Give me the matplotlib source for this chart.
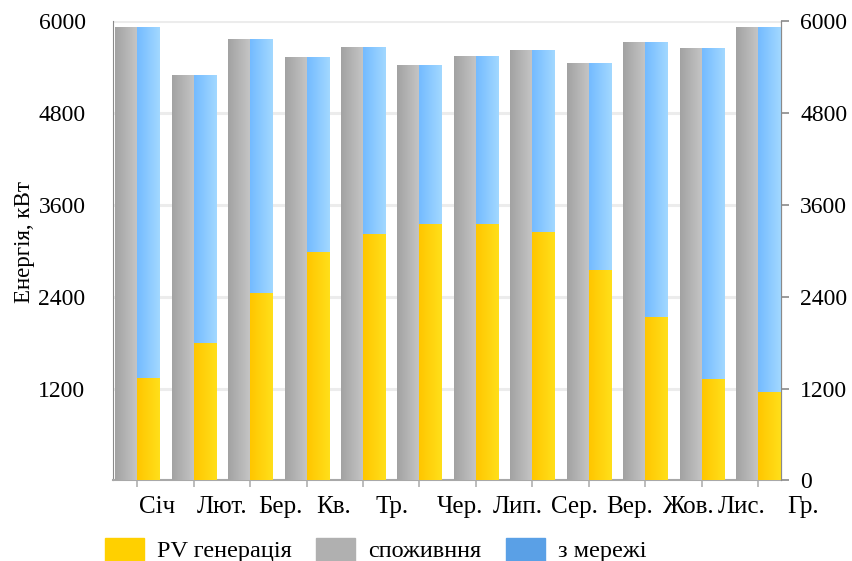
import numpy as np
import matplotlib
matplotlib.use("Agg")
import matplotlib.pyplot as plt
from matplotlib.colors import LinearSegmentedColormap
from matplotlib.patches import Patch
from matplotlib.transforms import offset_copy

plt.rcParams['font.family'] = ['Liberation Serif', 'DejaVu Serif']

months = ['Січ', 'Лют.', 'Бер.', 'Кв.', 'Тр.', 'Чер.', 'Лип.', 'Сер.', 'Вер.', 'Жов.', 'Лис.', 'Гр.']
pv = [1340, 1790, 2450, 2990, 3225, 3355, 3355, 3245, 2745, 2140, 1325, 1150]
consumption = [5925, 5290, 5770, 5530, 5660, 5420, 5540, 5620, 5455, 5730, 5650, 5925]
from_grid = [4585, 3500, 3320, 2540, 2435, 2065, 2185, 2375, 2710, 3590, 4325, 4775]
yticks = [0, 1200, 2400, 3600, 4800, 6000]
left_ticklabels = ['', '1200', '2400', '3600', '4800', '6000']

# label shift (px) - labels in the scan sit to the right of the ticks
label_dx = [20, 28, 30, 27, 29, 40, 42, 42, 41, 43, 40, 45]


def shade(ax, bars, c1, c2):
    cmap = LinearSegmentedColormap.from_list('g', [c1, c2])
    grad = np.linspace(0, 1, 64).reshape(1, -1)
    for b in bars:
        x0, y0 = b.get_x(), b.get_y()
        im = ax.imshow(grad, cmap=cmap, aspect='auto', interpolation='bilinear',
                       extent=[x0, x0 + b.get_width(), y0, y0 + b.get_height()],
                       zorder=b.get_zorder() + 0.1)
        im.set_clip_path(b)


fig = plt.figure(figsize=(8.53, 5.61), dpi=100)
ax = fig.add_axes([0.1328, 0.1435, 0.7824, 0.8191])

x = np.arange(len(months))
w = 0.39
b_cons = ax.bar(x - w / 2, consumption, w, color='#b4b4b4', zorder=3)
b_pv = ax.bar(x + w / 2, pv, w, color='#ffd000', zorder=3)
b_grid = ax.bar(x + w / 2, from_grid, w, bottom=pv, color='#8ccbff', zorder=3)
shade(ax, b_cons, '#a2a2a2', '#c6c6c6')
shade(ax, b_pv, '#ffc600', '#ffdf1a')
shade(ax, b_grid, '#74bbff', '#a2d8ff')

ax.set_xlim(-0.425, 11.40)
ax.set_ylim(0, 6000)

ax.set_yticks(yticks)
ax.set_yticklabels(left_ticklabels, fontsize=17)
ax.tick_params(axis='y', length=0, pad=20)
ax.yaxis.grid(True, color='#ececec', linewidth=2.2, zorder=0)
ax.set_axisbelow(True)

ax.set_xticks(x)
ax.set_xticklabels([''] * len(months))
ax.tick_params(axis='x', length=5, width=1.2, color='#b0b0b0')

trans = ax.get_xaxis_transform()
for i, m in enumerate(months):
    t = offset_copy(trans, fig=fig, x=label_dx[i], y=-16, units='dots')
    ax.text(i, 0, m, transform=t, ha='center', va='top', fontsize=18)

ax.spines['top'].set_visible(False)
ax.spines['left'].set_color('#8a8a8a')
ax.spines['bottom'].set_color('#a8a8a8')
ax.spines['bottom'].set_linewidth(1.5)
ax.spines['right'].set_color('#8a8a8a')

ax2 = ax.twinx()
ax2.set_ylim(0, 6000)
ax2.set_yticks(yticks)
ax2.set_yticklabels([str(v) for v in yticks], fontsize=17)
ax2.tick_params(axis='y', length=6, width=1.2, color='#8a8a8a', pad=8)
for s in ['top', 'left', 'bottom']:
    ax2.spines[s].set_visible(False)
ax2.spines['right'].set_color('#8a8a8a')

ax.set_ylabel('Енергія, кВт', fontsize=16.5)
ax.yaxis.set_label_coords(-0.117, 0.52)

handles = [Patch(color='#ffd000', label='PV генерація'),
           Patch(color='#b0b0b0', label='споживння'),
           Patch(color='#5aa0e6', label='з мережі')]
fig.legend(handles=handles, loc='center left', bbox_to_anchor=(105 / 853, 1 - 550 / 561),
           ncol=3, frameon=False, fontsize=17.5, handlelength=1.6, handleheight=1.1,
           handletextpad=0.55, columnspacing=1.0, borderpad=0, borderaxespad=0)

fig.savefig('out.png', dpi=100)
